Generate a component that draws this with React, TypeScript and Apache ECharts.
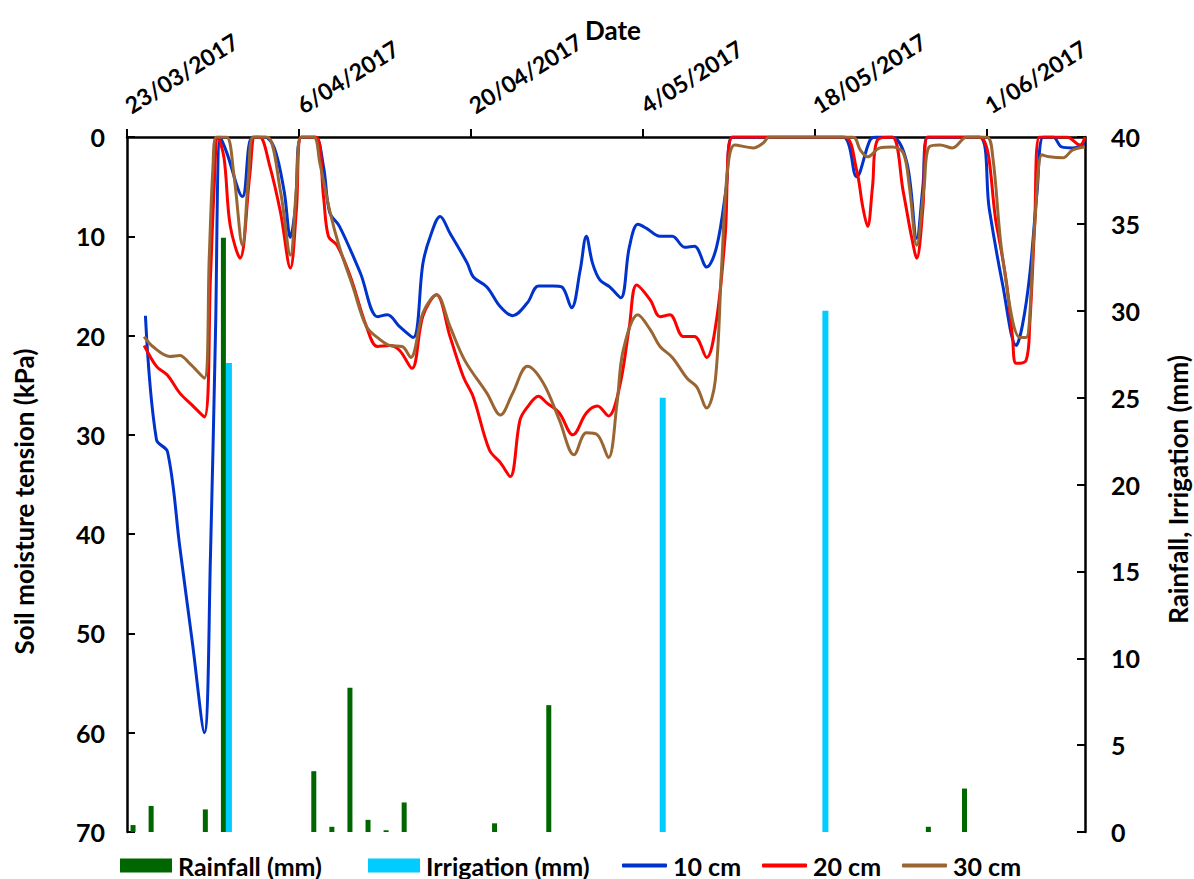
import { useEffect, useRef } from "react";
import * as echarts from "echarts";

// Day 0 of the date axis is 23/03/2017; major ticks every 14 days.
const START_DATE = Date.UTC(2017, 2, 23);
const DAY_MS = 86400000;
const DATE_TICKS = [0, 14, 28, 42, 56, 70];
const DAY_MAX = 78;

// Soil moisture tension (kPa) at each depth: [day since 23/03/2017, kPa]
const tension10cm: [number, number][] = [
  [1.5, 18], [2.4, 30.5], [3.3, 31.7], [4.3, 41.3], [5.3, 50.7], [6.3, 60], [6.8, 42], [7.2, 20], [7.6, 0],
  [8.1, 1.5], [9.4, 6], [10.2, 0], [11.2, 0], [12, 1.1], [12.8, 5.5], [13.3, 10.1], [13.7, 7.2], [14.2, 0],
  [15.3, 0], [16, 3], [16.5, 7.6], [17.3, 9], [19, 13.7], [20.4, 18.1], [21.2, 17.9], [22.2, 19.1],
  [23.3, 20.2], [24.1, 12.7], [24.7, 10], [25.5, 8], [26.3, 9.7], [27.7, 12.7], [28.2, 14.1], [29.3, 15.1],
  [30.4, 17.1], [31.4, 18], [32.6, 16.7], [33.5, 15], [34.7, 15], [35.4, 15.1], [36.2, 17.2], [36.9, 13.4],
  [37.4, 10], [37.9, 12.7], [38.5, 14.4], [39.3, 15.1], [40.2, 16.2], [40.9, 11.1], [41.6, 8.8], [42.3, 9.2],
  [43.4, 10], [44.4, 10], [45.4, 11.1], [46.2, 11], [47.2, 13.1], [48, 11.1], [48.8, 5], [49.3, 0],
  [52, 0], [55, 0], [58.3, 0], [59.4, 4], [60.5, 0.3], [61, 0], [62.3, 0], [63.5, 2.6], [64.3, 10.2],
  [64.8, 5], [65.2, 0], [67, 0], [69.4, 0], [70.2, 7.2], [71.3, 14.9], [72.4, 21], [72.9, 19], [73.5, 13.9],
  [74.1, 5.5], [74.6, 0], [75.4, 0], [76.1, 1], [77, 1.1], [78, 0.6],
];

const tension20cm: [number, number][] = [
  [1.4, 21], [2.4, 23.1], [3.3, 24], [4.3, 25.8], [5.3, 27], [6.3, 28.2], [6.8, 14], [7.1, 5], [7.4, 0],
  [7.9, 2.1], [8.4, 8.9], [9.2, 12.2], [10, 3.8], [10.4, 0], [10.8, 0], [11.6, 2.8], [12.5, 7.6],
  [13.3, 13.2], [13.8, 7.2], [14.2, 0], [15.4, 0], [16, 6], [16.4, 10], [17.1, 10.9], [18.2, 14.1],
  [19.5, 19.1], [20.4, 21.1], [21.4, 21], [22.2, 21.5], [23.2, 23.3], [24.1, 18], [25.2, 15.9], [26.3, 20.1],
  [27.4, 24.2], [28.2, 26.2], [29.5, 31.5], [30.4, 32.8], [31.2, 34.2], [32, 28.5], [32.6, 27.2],
  [33.5, 26.1], [34.2, 26.8], [35.2, 27.8], [36.3, 30], [37.4, 27.8], [38.3, 27.1], [39.2, 28.1],
  [40.1, 25.2], [40.9, 19.1], [41.5, 14.9], [42.6, 16.4], [43.4, 18.1], [44.2, 17.9], [45.3, 20.1],
  [46.2, 20.1], [47.2, 22.2], [48, 18.4], [48.7, 10], [49.3, 0], [52, 0], [55, 0], [58.4, 0], [59.4, 3.3],
  [59.9, 7], [60.3, 9], [60.7, 5], [61.1, 0.3], [62.3, 0], [63.2, 5.5], [63.9, 10.2], [64.3, 12.2],
  [64.8, 7.2], [65.2, 0], [67, 0], [69.4, 0], [70.8, 8.9], [71.6, 14.6], [72.1, 20.2], [72.4, 22.8],
  [73.2, 22.5], [73.5, 18.9], [73.9, 8.9], [74.3, 0], [76.5, 0], [77.6, 0.8], [78, 0],
];

const tension30cm: [number, number][] = [
  [1.4, 20.1], [2.1, 21.1], [3.5, 22.1], [4.3, 22], [5.1, 22.8], [6.3, 24.3], [6.7, 12], [7, 3], [7.3, 0],
  [8.1, 0], [8.7, 3.8], [9.4, 10.9], [9.9, 3.8], [10.3, 0], [11.4, 0], [12.5, 5.5], [13.3, 11.9], [13.8, 5],
  [14.2, 0], [15.2, 0], [15.7, 2.6], [16.5, 7.4], [17.3, 11.1], [18.4, 15.1], [19.5, 19.1], [20.6, 20.4],
  [21.4, 21], [22.4, 21.1], [23.1, 22.2], [24.1, 17.7], [25.2, 15.9], [26.3, 19.1], [27.5, 22.5],
  [29.3, 25.8], [30.4, 28], [31.4, 25.8], [32.6, 23.1], [33.9, 24.8], [35.2, 28.5], [36.4, 32],
  [37.4, 29.8], [38.3, 30], [39.2, 32.3], [39.9, 26.8], [40.4, 21.5], [41.6, 17.9], [42.6, 19.4],
  [43.4, 21.1], [44.4, 22.2], [45.6, 24.3], [46.4, 25.2], [47.2, 27.3], [47.9, 24.5], [48.4, 13.4],
  [48.9, 3.3], [49.5, 0.8], [51, 1.1], [51.8, 0.6], [52.3, 0], [55, 0], [59.1, 0], [59.7, 1.3], [60.3, 2],
  [61.3, 1.1], [62.3, 1], [63.2, 1.6], [63.7, 5], [64.3, 10.9], [64.9, 5], [65.3, 1], [66.2, 0.8],
  [67.2, 1.1], [68.4, 0], [70, 0], [70.5, 2.1], [71.3, 12.2], [72.7, 20.2], [73.2, 20.2], [73.9, 8.9],
  [74.5, 1.8], [75.1, 2], [76.2, 2.1], [77, 1.3], [78, 1],
];

// Rainfall and irrigation (mm) per observation record (53 records over the period)
const records = Array.from({ length: 53 }, (_, i) => `#${i + 1}`);
const rainfall = [
  0.4, 1.5, 0, 0, 1.3, 34.2, 0, 0, 0, 0,
  3.5, 0.3, 8.3, 0.7, 0.1, 1.7, 0, 0, 0, 0,
  0.5, 0, 0, 7.3, 0, 0, 0, 0, 0, 0,
  0, 0, 0, 0, 0, 0, 0, 0, 0, 0,
  0, 0, 0, 0, 0.3, 0, 2.5, 0, 0, 0,
  0, 0, 0,
];
const irrigation = [
  0, 0, 0, 0, 0, 27, 0, 0, 0, 0,
  0, 0, 0, 0, 0, 0, 0, 0, 0, 0,
  0, 0, 0, 0, 0, 0, 0, 0, 0, 25,
  0, 0, 0, 0, 0, 0, 0, 0, 30, 0,
  0, 0, 0, 0, 0, 0, 0, 0, 0, 0,
  0, 0, 0,
];

const FONT = "Lato";
const textStyle = { fontFamily: FONT, fontWeight: "bold" as const, fontSize: 25, color: "#000" };
const nameStyle = { ...textStyle, fontSize: 26 };

function dayLabel(day: number): string {
  const d = new Date(START_DATE + day * DAY_MS);
  const mm = String(d.getUTCMonth() + 1).padStart(2, "0");
  return `${d.getUTCDate()}/${mm}/${d.getUTCFullYear()}`;
}

export default function App() {
  const ref = useRef<HTMLDivElement>(null);

  useEffect(() => {
    if (!ref.current) return;
    const chart = echarts.init(ref.current, undefined, { renderer: "svg" });
    const axisLine = { show: true, lineStyle: { color: "#000", width: 2.5 } };
    const lineSeries = (name: string, data: [number, number][], color: string) => ({
      name,
      type: "line" as const,
      data,
      xAxisIndex: 0,
      yAxisIndex: 0,
      smooth: 0.35,
      showSymbol: false,
      symbol: "none",
      clip: true,
      lineStyle: { color, width: 3 },
      itemStyle: { color },
      z: 3,
    });
    const legendItem = (name: string, left: number, icon: string, width: number, height: number) => ({
      data: [{ name, icon }],
      left,
      top: 853,
      itemWidth: width,
      itemHeight: height,
      padding: 0,
      textStyle: { ...textStyle, padding: [0, 0, 0, 1] },
      selectedMode: false,
    });

    chart.setOption({
      animation: false,
      backgroundColor: "#fff",
      grid: { left: 127, right: 109, top: 137, bottom: 47, containLabel: false, outerBoundsMode: "none" },
      xAxis: [
        {
          type: "value",
          position: "top",
          min: 0,
          max: DAY_MAX,
          interval: 14,
          name: "Date",
          nameLocation: "middle",
          nameGap: 94,
          nameMoveOverlap: false,
          nameTextStyle: { ...nameStyle, padding: [0, 0, 0, 14] },
          axisLine,
          axisTick: { show: true, inside: false, length: 8, lineStyle: { color: "#000", width: 2 }, customValues: DATE_TICKS },
          axisLabel: { ...textStyle, fontSize: 23, rotate: 32, margin: 30, customValues: DATE_TICKS, formatter: (v: number) => dayLabel(v) },
          splitLine: { show: false },
        },
        {
          type: "category",
          data: records,
          position: "bottom",
          boundaryGap: true,
          show: false,
        },
      ],
      yAxis: [
        {
          type: "value",
          position: "left",
          inverse: true,
          min: 0,
          max: 70,
          interval: 10,
          name: "Soil moisture tension (kPa)",
          nameLocation: "middle",
          nameRotate: 90,
          nameGap: 90,
          nameMoveOverlap: false,
          nameTextStyle: { ...nameStyle, padding: [0, 34, 0, 0] },
          axisLine,
          axisTick: { show: true, inside: true, length: 8, lineStyle: { color: "#000", width: 2 } },
          axisLabel: { ...textStyle, margin: 22 },
          splitLine: { show: false },
        },
        {
          type: "value",
          position: "right",
          min: 0,
          max: 40,
          interval: 5,
          name: "Rainfall, Irrigation (mm)",
          nameLocation: "middle",
          nameRotate: 90,
          nameGap: 80,
          nameMoveOverlap: false,
          nameTextStyle: { ...nameStyle, padding: [0, 10, 0, 0] },
          axisLine,
          axisTick: { show: true, inside: true, length: 8, lineStyle: { color: "#000", width: 2 } },
          axisLabel: { ...textStyle, margin: 26 },
          splitLine: { show: false },
        },
      ],
      legend: [
        legendItem("Rainfall (mm)", 120, "rect", 52, 14),
        legendItem("Irrigation (mm)", 368, "rect", 52, 14),
        legendItem("10 cm", 622, "roundRect", 45, 4),
        legendItem("20 cm", 762, "roundRect", 45, 4),
        legendItem("30 cm", 902, "roundRect", 45, 4),
      ],
      series: [
        {
          name: "Rainfall (mm)",
          type: "bar",
          data: rainfall,
          xAxisIndex: 1,
          yAxisIndex: 1,
          barWidth: 5,
          barGap: "0%",
          itemStyle: { color: "#006600" },
          z: 1,
        },
        {
          name: "Irrigation (mm)",
          type: "bar",
          data: irrigation,
          xAxisIndex: 1,
          yAxisIndex: 1,
          barWidth: 6,
          barGap: "0%",
          itemStyle: { color: "#00CCFF" },
          z: 1,
        },
        lineSeries("10 cm", tension10cm, "#0033CC"),
        lineSeries("20 cm", tension20cm, "#FF0000"),
        lineSeries("30 cm", tension30cm, "#996633"),
      ],
    });
    return () => chart.dispose();
  }, []);

  return (
    <div
      ref={ref}
      style={{ position: "fixed", left: 0, top: 0, width: 1194, height: 879, background: "#fff" }}
    />
  );
}
